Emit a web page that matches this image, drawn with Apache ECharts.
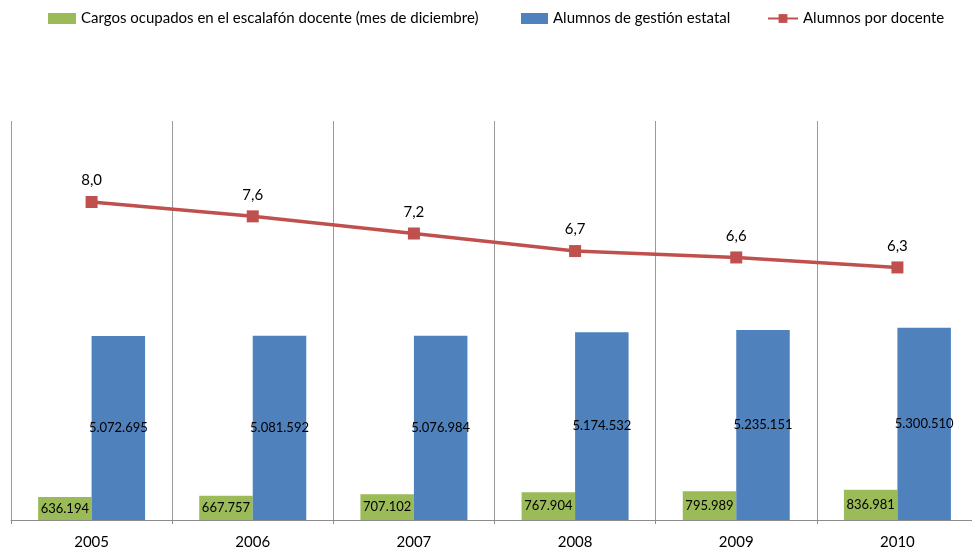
<!DOCTYPE html>
<html>
<head>
<meta charset="utf-8">
<script src="https://cdn.jsdelivr.net/npm/echarts@6/dist/echarts.min.js"></script>
<style>
html, body { margin: 0; padding: 0; background: #fff; overflow: hidden; }
#main { width: 978px; height: 550px; }
</style>
</head>
<body>
<div id="main"></div>
<script>
// datos
var years = ['2005', '2006', '2007', '2008', '2009', '2010'];
var cargos = [636194, 667757, 707102, 767904, 795989, 836981];
var alumnos = [5072695, 5081592, 5076984, 5174532, 5235151, 5300510];
var alumnosPorDocente = [7.97, 7.61, 7.18, 6.74, 6.58, 6.33];

var nombres = [
    'Cargos ocupados en el escalafón docente (mes de diciembre)',
    'Alumnos de gestión estatal',
    'Alumnos por docente'
];

var FONT = 'Lato';

function miles(v) {
    return String(v).replace(/\B(?=(\d{3})+(?!\d))/g, '.');
}

var myChart = echarts.init(document.getElementById('main'));

// la grafica original queda cortada a la derecha, por eso el div es mas ancho que la ventana
var option = {
    animation: false,
    textStyle: { fontFamily: FONT, color: '#000' },
    legend: [
        {
            left: 43, top: 6,
            itemWidth: 28, itemHeight: 11, itemGap: 0,
            textStyle: { fontFamily: FONT, fontSize: 15, color: '#000' },
            data: [{ name: nombres[0], icon: 'rect' }]
        },
        {
            left: 516, top: 6,
            itemWidth: 27, itemHeight: 11, itemGap: 0,
            textStyle: { fontFamily: FONT, fontSize: 15, color: '#000' },
            data: [{ name: nombres[1], icon: 'rect' }]
        },
        {
            left: 762, top: 6,
            itemWidth: 30, itemHeight: 11, itemGap: 0,
            textStyle: { fontFamily: FONT, fontSize: 15, color: '#000' },
            data: [{ name: nombres[2] }]
        }
    ],
    grid: {
        left: 11,
        right: 0,
        top: 121,
        bottom: 28
    },
    xAxis: {
        type: 'category',
        data: years,
        boundaryGap: true,
        axisLine: { lineStyle: { color: '#8c8c8c', width: 1 } },
        axisTick: { show: true, interval: 0, length: 4, lineStyle: { color: '#8c8c8c' } },
        axisLabel: { fontFamily: FONT, fontSize: 15, color: '#000', margin: 15 },
        splitLine: { show: true, interval: 0, lineStyle: { color: '#9a9a9a', width: 1 } }
    },
    yAxis: [
        { type: 'value', min: 0, max: 11000000, show: false, splitLine: { show: false } },
        { type: 'value', min: 0, max: 10, show: false, splitLine: { show: false } }
    ],
    series: [
        {
            name: nombres[0],
            type: 'bar',
            data: cargos,
            barWidth: 53.5,
            barGap: '0%',
            itemStyle: { color: '#9BBB59' },
            label: {
                show: true,
                position: 'inside',
                fontFamily: FONT,
                fontSize: 13,
                color: '#000',
                formatter: function (p) { return miles(p.value); }
            }
        },
        {
            name: nombres[1],
            type: 'bar',
            data: alumnos,
            barWidth: 53.5,
            barGap: '0%',
            itemStyle: { color: '#4F81BD' },
            label: {
                show: true,
                position: 'inside',
                fontFamily: FONT,
                fontSize: 13,
                color: '#000',
                formatter: function (p) { return miles(p.value); }
            }
        },
        {
            name: nombres[2],
            type: 'line',
            yAxisIndex: 1,
            data: alumnosPorDocente,
            symbol: 'rect',
            symbolSize: 12,
            lineStyle: { color: '#C0504D', width: 3.5 },
            itemStyle: { color: '#C0504D' },
            label: {
                show: true,
                position: 'top',
                distance: 8,
                fontFamily: FONT,
                fontSize: 15,
                color: '#000',
                formatter: function (p) { return p.value.toFixed(1).replace('.', ','); }
            }
        }
    ]
};

if (option && typeof option === "object") {
    myChart.setOption(option, true);
}
</script>
</body>
</html>
